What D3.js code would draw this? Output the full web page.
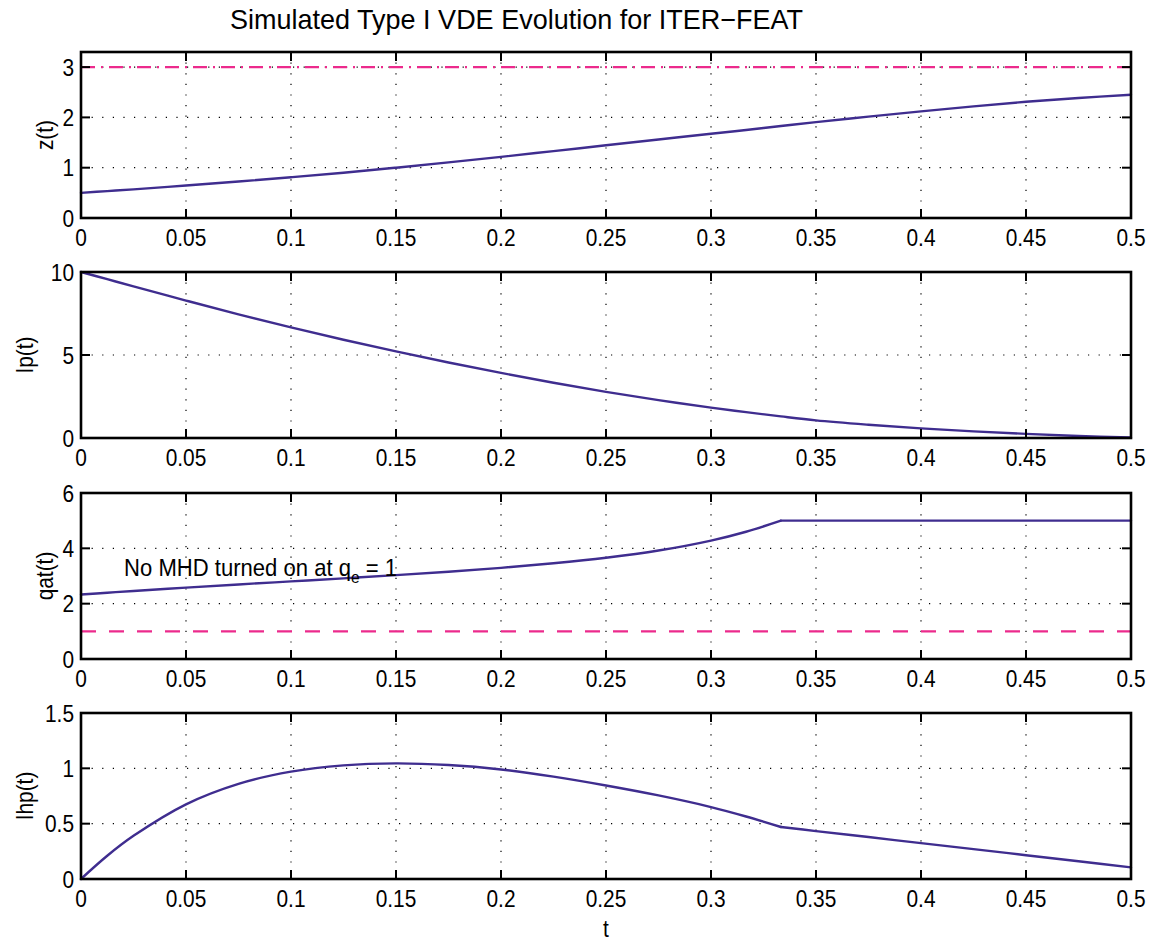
<!DOCTYPE html>
<html>
<head>
<meta charset="utf-8">
<script src="https://cdn.jsdelivr.net/npm/d3@7"></script>
<style>
  html, body { margin: 0; padding: 0; background: #fff; }
  svg { display: block; font-family: "Liberation Sans", Arial, Helvetica, sans-serif; }
</style>
</head>
<body>
<svg id="chart" width="1151" height="942"></svg>
<script>
// ---------------- data ----------------
const tValues = [0, 0.0125, 0.025, 0.05, 0.075, 0.1, 0.125, 0.15, 0.175, 0.2, 0.225, 0.25, 0.275, 0.3, 0.3167, 0.3333, 0.35, 0.375, 0.4, 0.425, 0.45, 0.475, 0.5];
const zValues   = [0.5, 0.535, 0.57, 0.645, 0.725, 0.81, 0.9, 1.0, 1.105, 1.215, 1.33, 1.445, 1.56, 1.675, 1.75, 1.83, 1.905, 2.015, 2.12, 2.22, 2.31, 2.385, 2.45];
const ipValues  = [10, 9.57, 9.13, 8.28, 7.45, 6.66, 5.92, 5.22, 4.55, 3.92, 3.33, 2.78, 2.28, 1.83, 1.56, 1.3, 1.06, 0.8, 0.58, 0.4, 0.25, 0.12, 0.03];
const qatValues = [2.33, 2.395, 2.46, 2.58, 2.695, 2.805, 2.915, 3.03, 3.155, 3.295, 3.46, 3.66, 3.92, 4.28, 4.6, 5.0, 5.0, 5.0, 5.0, 5.0, 5.0, 5.0, 5.0];
const ihpValues = [0, 0.21, 0.39, 0.675, 0.86, 0.97, 1.027, 1.045, 1.03, 0.99, 0.925, 0.845, 0.755, 0.65, 0.565, 0.47, 0.433, 0.379, 0.324, 0.27, 0.215, 0.16, 0.105];
const kinkT = 0.3333;  // qat saturates here, Ihp changes slope

const zLimit = 3;      // dash-dot reference in panel 1
const qLimit = 1;      // dashed reference in panel 3

const xTicks = [0, 0.05, 0.1, 0.15, 0.2, 0.25, 0.3, 0.35, 0.4, 0.45, 0.5];
const zTicks = [0, 1, 2, 3];
const ipTicks = [0, 5, 10];
const qatTicks = [0, 2, 4, 6];
const ihpTicks = [0, 0.5, 1, 1.5];

const yLabels = ["z(t)", "Ip(t)", "qat(t)", "Ihp(t)"];
const titleText = "Simulated Type I VDE Evolution for ITER\u2212FEAT";
const xLabelText = "t";
const noteText = "No MHD turned on at q";

// ---------------- layout ----------------
const svg = d3.select("#chart");
const left = 81, right = 1131, panelH = 166;
const tops = [52, 272, 493, 713];
const lineColor = "#3f2d8f";
const refColor = "#ec2a8c";
const fontSize = 24;
const squeeze = 0.87;   // reference glyphs are narrower than Liberation Sans

const x = d3.scaleLinear().domain([0, 0.5]).range([left, right]);
const fmt = v => String(+v.toFixed(2));

function addText(g, px, py, str, opts = {}) {
  const rot = opts.rotate ? ` rotate(${opts.rotate})` : "";
  const sx = opts.squeeze || squeeze;
  return g.append("text")
    .attr("transform", `translate(${px},${py})${rot} scale(${sx},1)`)
    .attr("text-anchor", opts.anchor || "middle")
    .attr("font-size", opts.size || fontSize)
    .attr("fill", "#000")
    .text(str);
}

const panels = [
  { values: zValues, domain: [0, 3.3], ticks: zTicks, label: yLabels[0], labelX: 53, ref: zLimit, refDash: "14,6,2,6", kink: false },
  { values: ipValues, domain: [0, 10], ticks: ipTicks, label: yLabels[1], labelX: 33, kink: false },
  { values: qatValues, domain: [0, 6], ticks: qatTicks, label: yLabels[2], labelX: 53, ref: qLimit, refDash: "15,13", kink: true },
  { values: ihpValues, domain: [0, 1.5], ticks: ihpTicks, label: yLabels[3], labelX: 33, kink: true }
];

svg.append("rect").attr("width", 1151).attr("height", 942).attr("fill", "#fff");

panels.forEach((p, i) => {
  const top = tops[i], bottom = top + panelH;
  const y = d3.scaleLinear().domain(p.domain).range([bottom, top]);
  const g = svg.append("g");

  // grid
  g.selectAll(".gx").data(xTicks.slice(1, -1)).join("line")
    .attr("x1", d => x(d)).attr("x2", d => x(d))
    .attr("y1", top).attr("y2", bottom)
    .attr("stroke", "#000").attr("stroke-width", 1.2).attr("stroke-dasharray", "1.2,9.4");
  g.selectAll(".gy").data(p.ticks.filter(d => d !== p.domain[0] && d !== p.domain[1])).join("line")
    .attr("x1", left).attr("x2", right)
    .attr("y1", d => y(d)).attr("y2", d => y(d))
    .attr("stroke", "#000").attr("stroke-width", 1.2).attr("stroke-dasharray", "1.2,9.4");

  // reference line
  if (p.ref !== undefined) {
    g.append("line")
      .attr("x1", x(0)).attr("x2", x(0.5))
      .attr("y1", y(p.ref)).attr("y2", y(p.ref))
      .attr("stroke", refColor).attr("stroke-width", 2.4)
      .attr("stroke-dasharray", p.refDash);
  }

  // data line (split at the kink so the spline does not round it)
  const pts = tValues.map((t, j) => [t, p.values[j]]);
  const segments = p.kink
    ? [pts.filter(d => d[0] <= kinkT), pts.filter(d => d[0] >= kinkT)]
    : [pts];
  const line = d3.line()
    .x(d => x(d[0]))
    .y(d => y(d[1]))
    .curve(d3.curveCatmullRom.alpha(0.5));
  segments.forEach(seg => {
    g.append("path").datum(seg)
      .attr("d", line)
      .attr("fill", "none").attr("stroke", lineColor).attr("stroke-width", 2.4)
      .attr("stroke-linejoin", "round").attr("stroke-linecap", "round");
  });

  // ticks (inside, on all four sides)
  const tl = 9;
  xTicks.forEach(v => {
    g.append("line").attr("x1", x(v)).attr("x2", x(v)).attr("y1", bottom).attr("y2", bottom - tl)
      .attr("stroke", "#000").attr("stroke-width", 2);
    g.append("line").attr("x1", x(v)).attr("x2", x(v)).attr("y1", top).attr("y2", top + tl)
      .attr("stroke", "#000").attr("stroke-width", 2);
  });
  p.ticks.forEach(v => {
    g.append("line").attr("x1", left).attr("x2", left + tl).attr("y1", y(v)).attr("y2", y(v))
      .attr("stroke", "#000").attr("stroke-width", 2);
    g.append("line").attr("x1", right).attr("x2", right - tl).attr("y1", y(v)).attr("y2", y(v))
      .attr("stroke", "#000").attr("stroke-width", 2);
  });

  // frame
  g.append("rect").attr("x", left).attr("y", top).attr("width", right - left).attr("height", panelH)
    .attr("fill", "none").attr("stroke", "#000").attr("stroke-width", 2.6);

  // tick labels
  xTicks.forEach(v => addText(g, x(v), bottom + 28, fmt(v)));
  p.ticks.forEach(v => addText(g, left - 7, y(v) + 8.5, fmt(v), { anchor: "end" }));

  // y label
  addText(g, p.labelX, (top + bottom) / 2, p.label, { rotate: -90 });

  // annotation in panel 3
  if (i === 2) {
    const txt = g.append("text")
      .attr("transform", `translate(${x(0.0205)},${y(3.29) + 8}) scale(0.92,1)`)
      .attr("font-size", fontSize).attr("fill", "#000");
    txt.append("tspan").text(noteText);
    txt.append("tspan").attr("font-size", 17).attr("dy", 7).text("e");
    txt.append("tspan").attr("dy", -7).text(" = 1");
  }
});

// title and x label
svg.append("text").attr("x", 230).attr("y", 29)
  .attr("font-size", 28).attr("fill", "#000")
  .attr("textLength", 573).attr("lengthAdjust", "spacingAndGlyphs")
  .text(titleText);
addText(svg, (left + right) / 2, 937, xLabelText);
</script>
</body>
</html>
